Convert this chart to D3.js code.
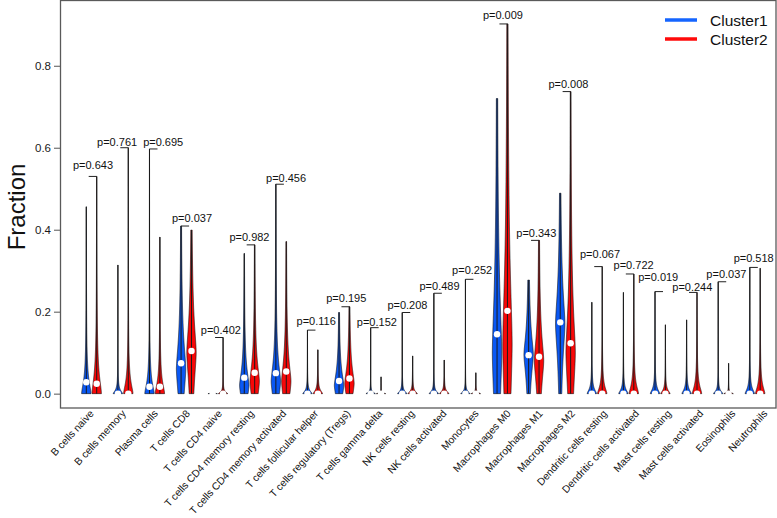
<!DOCTYPE html>
<html>
<head>
<meta charset="utf-8">
<script src="https://cdn.jsdelivr.net/npm/d3@7"></script>
<style>
  body { margin: 0; background: #fff; }
  text { font-family: "Liberation Sans", Arial, sans-serif; }
</style>
</head>
<body>
<svg id="chart" width="777" height="518"></svg>
<script>
// immune cell fractions, two clusters
const categories = [
  "B cells naive", "B cells memory", "Plasma cells", "T cells CD8",
  "T cells CD4 naive", "T cells CD4 memory resting", "T cells CD4 memory activated",
  "T cells follicular helper", "T cells regulatory (Tregs)", "T cells gamma delta",
  "NK cells resting", "NK cells activated", "Monocytes", "Macrophages M0",
  "Macrophages M1", "Macrophages M2", "Dendritic cells resting",
  "Dendritic cells activated", "Mast cells resting", "Mast cells activated",
  "Eosinophils", "Neutrophils"
];
const pValues = [
  "0.643", "0.761", "0.695", "0.037", "0.402", "0.982", "0.456", "0.116",
  "0.195", "0.152", "0.208", "0.489", "0.252", "0.009", "0.343", "0.008",
  "0.067", "0.722", "0.019", "0.244", "0.037", "0.518"
];

// Cluster1 (blue)
const c1Max = [0.456, 0.314, 0.597, 0.409, 0.004, 0.342, 0.511, 0.155, 0.198, 0.161, 0.198,
  0.245, 0.279, 0.72, 0.277, 0.489, 0.223, 0.247, 0.249, 0.18, 0.273, 0.308];
const c1Median = [0.028, 0, 0.017, 0.074, 0, 0.039, 0.05, 0, 0.031, 0, 0,
  0, 0, 0.145, 0.094, 0.174, 0, 0, 0, 0, 0, 0];
const c1Peak = [0, 0, 0, 0.06, 0, 0.02, 0.03, 0, 0.02, 0, 0,
  0, 0, 0.1, 0.095, 0.17, 0, 0, 0, 0, 0, 0];
const c1Spread = [0.04, 0.01, 0.035, 0.09, 0.001, 0.05, 0.06, 0.008, 0.045, 0.004, 0.007,
  0.007, 0.006, 0.2, 0.07, 0.11, 0.0135, 0.012, 0.014, 0.0126, 0.008, 0.015];

// Cluster2 (red)
const c2Max = [0.53, 0.60, 0.382, 0.399, 0.137, 0.363, 0.371, 0.107, 0.212, 0.041, 0.092,
  0.082, 0.051, 0.902, 0.374, 0.737, 0.31, 0.292, 0.168, 0.247, 0.074, 0.306];
const c2Median = [0.024, 0, 0.017, 0.104, 0, 0.051, 0.054, 0, 0.037, 0, 0,
  0, 0, 0.202, 0.09, 0.123, 0, 0, 0, 0, 0, 0];
const c2Peak = [0, 0, 0, 0.1, 0, 0.03, 0.03, 0, 0.025, 0, 0,
  0, 0, 0.12, 0.08, 0.1, 0, 0, 0, 0, 0, 0];
const c2Spread = [0.055, 0.035, 0.035, 0.1, 0.005, 0.06, 0.065, 0.01, 0.05, 0.001, 0.007,
  0.007, 0.003, 0.24, 0.08, 0.14, 0.021, 0.026, 0.01, 0.024, 0.003, 0.024];

const yTicks = [0, 0.2, 0.4, 0.6, 0.8];
const clusters = ["Cluster1", "Cluster2"];
const clusterColors = ["#0a58f4", "#f70808"];
const legendColors = ["#1565ff", "#ff0a0a"];

// hand nudges for the p labels so they don't collide (px)
const pLabelDx = [1.5, -6, 8.5, 5.7, 3, 0, 5, 3.5, 2, 1, 0, 0.5, 1.5, 0.7, 2.5, 3, 3, 5, -2, 0.5, 3, -1.3];
const pLabelGap = [7, 2, 2.5, 4, 4, 4.3, 2.6, 5, 5, 2, 3.3, 3.3, 5, 4.7, 3.3, 4, 9, 5, 10.7, 1.3, 3.4, 5];

const svg = d3.select("#chart");

const y = d3.scaleLinear().domain([-0.035, 0.958]).range([408, 1]);
const x = d3.scalePoint().domain(categories).range([91.5, 755]);
// tick labels sit on a slightly wider spread than the violins
const xLab = d3.scalePoint().domain(categories).range([94.3, 768]);
const dodge = 5.2;
const halfW = 4.7;

let violins = [];
categories.forEach((c, i) => {
  violins.push({ cat: c, i: i, k: 0, max: c1Max[i], med: c1Median[i], peak: c1Peak[i], spread: c1Spread[i] });
  violins.push({ cat: c, i: i, k: 1, max: c2Max[i], med: c2Median[i], peak: c2Peak[i], spread: c2Spread[i] });
});

const cxOf = (d) => x(d.cat) + (d.k === 0 ? -dodge : dodge);

const widthAt = (d, v) => {
  let t = Math.abs(v - d.peak) / d.spread;
  return halfW / (1 + Math.pow(t, 1.6));
};

const profile = (d) => {
  let n = Math.max(8, Math.ceil(y(0) - y(d.max)));
  return d3.range(n + 1).map((j) => {
    let v = (d.max * j) / n;
    return { v: v, w: widthAt(d, v) };
  });
};

// frame
svg.append("rect")
  .attr("x", 60.5).attr("y", 0.5)
  .attr("width", 715.5).attr("height", 407.5)
  .attr("fill", "none")
  .attr("stroke", "#5a5a5a")
  .attr("stroke-width", 1.3);

// y axis
const yAxis = svg.append("g")
  .attr("transform", "translate(60,0)")
  .attr("color", "#333")
  .call(d3.axisLeft(y).tickValues(yTicks).tickFormat(d3.format(".1f")).tickSize(6).tickPadding(3));
yAxis.select(".domain").remove();
yAxis.selectAll(".tick line").attr("stroke", "#555");
yAxis.selectAll(".tick text")
  .attr("fill", "#1a1a1a")
  .style("font-size", "11.5px")
  .style("font-family", "'Liberation Sans', Arial, sans-serif");

svg.append("text")
  .attr("transform", "translate(25,207) rotate(-90)")
  .attr("text-anchor", "middle")
  .attr("fill", "#111")
  .style("font-size", "24px")
  .text("Fraction");

// violins
const area = d3.area()
  .y((p) => y(p.v))
  .x0((p) => -p.w)
  .x1((p) => p.w);

const vg = svg.append("g")
  .selectAll("g")
  .data(violins)
  .enter()
  .append("g")
  .attr("transform", (d) => "translate(" + cxOf(d) + ",0)");

vg.append("path")
  .attr("d", (d) => area(profile(d)))
  .attr("fill", (d) => clusterColors[d.k])
  .attr("stroke", "#111")
  .attr("stroke-width", 0.6);

vg.append("line")
  .attr("x1", 0).attr("x2", 0)
  .attr("y1", y(0))
  .attr("y2", (d) => y(d.max))
  .attr("stroke", "#1a1a1a")
  .attr("stroke-width", 1);

vg.append("circle")
  .attr("cx", 0)
  .attr("cy", (d) => y(d.med))
  .attr("r", 3.2)
  .attr("fill", "#fff");

// p value labels
const topOf = (i) => y(Math.max(c1Max[i], c2Max[i]));

const pg = svg.append("g")
  .selectAll("g")
  .data(categories)
  .enter()
  .append("g");

pg.append("line")
  .attr("x1", (c, i) => (c1Max[i] >= c2Max[i] ? x(c) - dodge : x(c) + dodge))
  .attr("x2", (c, i) => (c1Max[i] >= c2Max[i] ? x(c) - dodge + 8 : x(c) + dodge - 8))
  .attr("y1", (c, i) => topOf(i))
  .attr("y2", (c, i) => topOf(i))
  .attr("stroke", "#222")
  .attr("stroke-width", 1);

pg.append("text")
  .attr("x", (c, i) => x(c) + pLabelDx[i])
  .attr("y", (c, i) => topOf(i) - pLabelGap[i])
  .attr("text-anchor", "middle")
  .attr("fill", "#111")
  .style("font-size", "11px")
  .text((c, i) => "p=" + pValues[i]);

// x labels
svg.append("g")
  .selectAll("text")
  .data(categories)
  .enter()
  .append("text")
  .attr("transform", (c) => "translate(" + xLab(c) + ",414) rotate(-47.5)")
  .attr("text-anchor", "end")
  .attr("fill", "#111")
  .style("font-size", "10.3px")
  .text((c) => c);

// legend
const lg = svg.append("g")
  .selectAll("g")
  .data(clusters)
  .enter()
  .append("g")
  .attr("transform", (c, i) => "translate(665," + (20 + i * 19) + ")");

lg.append("line")
  .attr("x1", 0).attr("x2", 32)
  .attr("stroke", (c, i) => legendColors[i])
  .attr("stroke-width", 3.5);

lg.append("text")
  .attr("x", 45)
  .attr("y", 5.5)
  .attr("fill", "#111")
  .style("font-size", "15.5px")
  .text((c) => c);
</script>
</body>
</html>
